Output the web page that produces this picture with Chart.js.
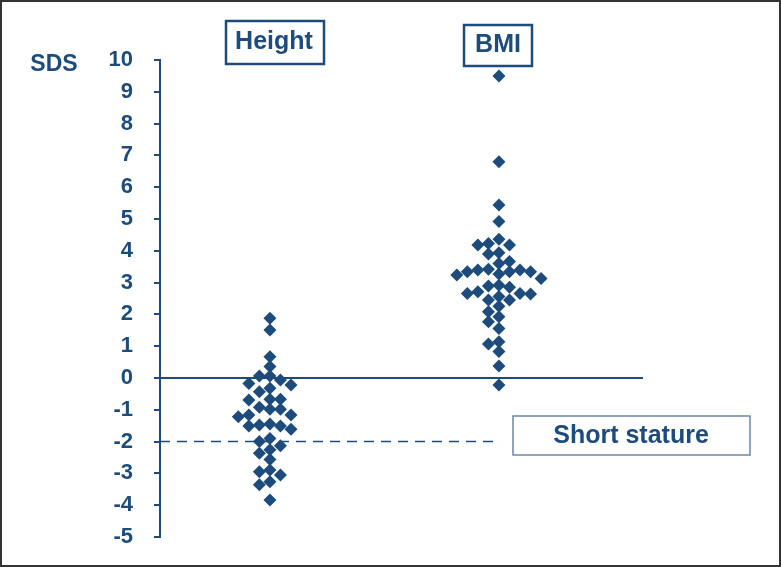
<!DOCTYPE html>
<html>
<head>
<meta charset="utf-8">
<script src="https://cdn.jsdelivr.net/npm/chart.js@4"></script>
<style>
  body { margin: 0; background: #fff; }
  canvas { display: block; }
</style>
</head>
<body>
<canvas id="chart" width="781" height="567"></canvas>
<script>
// SDS values
const groups = ['Height', 'BMI'];
const heightSDS = [1.88, 1.51, 0.67, 0.36, 0.06, 0.06, -0.06, -0.22, -0.17, -0.32, -0.43,
  -0.67, -0.67, -0.69, -0.98, -0.92, -0.98, -1.16, -1.22, -1.16, -1.51, -1.48, -1.45,
  -1.51, -1.61, -1.90, -2.00, -2.13, -2.26, -2.37, -2.56, -2.89, -2.95, -3.05, -3.26,
  -3.36, -3.84];
const bmiSDS = [9.5, 6.8, 5.44, 4.92, 4.36, 4.18, 4.23, 4.18, 3.90, 3.94, 3.66, 3.60,
  3.34, 3.24, 3.42, 3.34, 3.27, 3.40, 3.40, 3.34, 3.13, 2.89, 2.85, 2.92, 2.71, 2.66,
  2.66, 2.56, 2.64, 2.45, 2.45, 2.26, 2.08, 1.93, 1.77, 1.56, 1.14, 1.07, 0.83, 0.38,
  -0.22];
const shortStatureCutoff = -2;
const yTicks = { min: -5, max: 10, step: 1 };

const blue = '#1c4b7c';
const fontFam = '"Liberation Sans", Arial, sans-serif';
const xMin = 0.52, xMax = 2.629;   // Height sits at 1, BMI at 2
const colStep = 0.046;

// simple beeswarm: spread points sideways when they would overlap
function swarm(values, gap) {
  const order = values.map((v, i) => i).sort((a, b) => values[b] - values[a]);
  const prefs = [0, -1, 1, -2, 2, -3, 3, -4, 4, -5, 5];
  const placed = [];
  const cols = [];
  for (const i of order) {
    for (const c of prefs) {
      if (placed.every(p => p.c !== c || Math.abs(p.v - values[i]) >= gap)) {
        cols[i] = c;
        placed.push({ c: c, v: values[i] });
        break;
      }
    }
  }
  return cols;
}

function toPoints(values, groupPos) {
  const cols = swarm(values, 0.3);
  return values.map((v, i) => ({ x: groupPos + cols[i] * colStep, y: v }));
}

const boxes = {
  id: 'boxes',
  beforeDraw(chart) {
    const c = chart.ctx;
    c.save();
    c.fillStyle = '#fff';
    c.fillRect(0, 0, chart.width, chart.height);
    c.restore();
  },
  afterDraw(chart) {
    const c = chart.ctx;
    c.save();
    c.textAlign = 'center';
    c.textBaseline = 'middle';
    c.fillStyle = blue;

    // group titles in boxes
    c.strokeStyle = blue;
    c.lineWidth = 2.5;
    c.strokeRect(226, 21, 98, 43);
    c.strokeRect(464, 25, 68, 41);
    c.font = 'bold 25px ' + fontFam;
    c.fillText(groups[0], 274, 42);
    c.fillText(groups[1], 498, 45);

    // cutoff label
    c.strokeStyle = '#6f87a6';
    c.lineWidth = 1.5;
    c.strokeRect(513, 416, 237, 39);
    c.fillText('Short stature', 631, 436);

    c.font = 'bold 23px ' + fontFam;
    c.fillText('SDS', 54, 65);

    // picture frame
    c.strokeStyle = '#333';
    c.lineWidth = 2;
    c.strokeRect(1, 1, chart.width - 2, chart.height - 2);
    c.restore();
  }
};

new Chart(document.getElementById('chart'), {
  type: 'scatter',
  data: {
    datasets: [
      {
        label: groups[0],
        data: toPoints(heightSDS, 1),
        pointStyle: 'rectRot',
        pointRadius: 6.5,
        backgroundColor: blue,
        borderColor: blue,
        borderWidth: 0,
        order: 0
      },
      {
        label: groups[1],
        data: toPoints(bmiSDS, 2),
        pointStyle: 'rectRot',
        pointRadius: 6.5,
        backgroundColor: blue,
        borderColor: blue,
        borderWidth: 0,
        order: 0
      },
      {
        type: 'line',
        label: 'zero',
        data: [{ x: xMin, y: 0 }, { x: xMax, y: 0 }],
        borderColor: blue,
        borderWidth: 2,
        pointRadius: 0,
        order: 1
      },
      {
        type: 'line',
        label: 'short stature',
        data: [{ x: xMin, y: shortStatureCutoff }, { x: 2.005, y: shortStatureCutoff }],
        borderColor: blue,
        borderWidth: 1.5,
        borderDash: [10, 7],
        pointRadius: 0,
        order: 2
      }
    ]
  },
  options: {
    responsive: false,
    animation: false,
    layout: { padding: { top: 60, bottom: 30, right: 138, left: 0 } },
    plugins: {
      legend: { display: false },
      tooltip: { enabled: false }
    },
    scales: {
      x: { type: 'linear', display: false, min: xMin, max: xMax },
      y: {
        min: yTicks.min,
        max: yTicks.max,
        ticks: {
          stepSize: yTicks.step,
          color: blue,
          padding: 21,
          font: { family: fontFam, size: 22, weight: 'bold' }
        },
        grid: { drawOnChartArea: false, color: blue, lineWidth: 2, tickLength: 6 },
        border: { color: blue, width: 2 },
        afterFit(scale) {
          scale.width = 160;
          scale.paddingTop = 0;
          scale.paddingBottom = 0;
        }
      }
    }
  },
  plugins: [boxes]
});
</script>
</body>
</html>
